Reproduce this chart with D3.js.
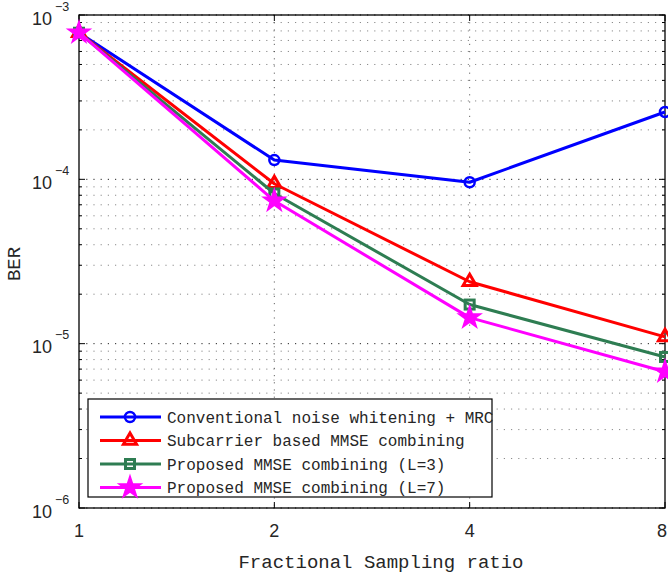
<!DOCTYPE html>
<html><head><meta charset="utf-8">
<script src="https://cdn.jsdelivr.net/npm/d3@7"></script>
<style>body{margin:0;background:#fff}svg{display:block}</style>
</head><body>
<svg id="c" width="668" height="578"></svg>
<script>
const ratios = [1, 2, 4, 8];
const xTickLabels = ["1", "2", "4", "8"];
const yDecades = [-6, -5, -4, -3];
const seriesNames = [
  "Conventional noise whitening + MRC",
  "Subcarrier based MMSE combining",
  "Proposed MMSE combining (L=3)",
  "Proposed MMSE combining (L=7)"
];
const berConventional = [7.8e-4, 1.31e-4, 9.6e-5, 2.57e-4];
const berSubcarrier   = [7.8e-4, 9.4e-5, 2.38e-5, 1.10e-5];
const berProposedL3   = [7.8e-4, 8.2e-5, 1.73e-5, 8.3e-6];
const berProposedL7   = [7.8e-4, 7.4e-5, 1.44e-5, 6.75e-6];

const svg = d3.select("#c");
const L = 79, R = 665, T = 15, B = 508;
const x = d3.scaleLog().base(2).domain([1, 8]).range([L, R]);
const y = d3.scaleLog().domain([1e-6, 1e-3]).range([B, T]);

// grid
const gridVals = [];
for (let k = -6; k < -3; k++) for (let m = 1; m <= 9; m++) gridVals.push(m * Math.pow(10, k));
gridVals.push(1e-3);
const g = svg.append("g");
gridVals.forEach(v => {
  const major = Math.abs(Math.log10(v) - Math.round(Math.log10(v))) < 1e-9;
  g.append("line").attr("x1", L).attr("x2", R).attr("y1", y(v)).attr("y2", y(v))
    .attr("stroke", "#000").attr("stroke-width", 1).attr("stroke-dasharray", "1.2,6")
    .attr("opacity", major ? 0.85 : 0.45);
});
ratios.slice(1, -1).forEach(v => {
  g.append("line").attr("x1", x(v)).attr("x2", x(v)).attr("y1", T).attr("y2", B)
    .attr("stroke", "#000").attr("stroke-width", 1).attr("stroke-dasharray", "1.2,6")
    .attr("opacity", 0.6);
});

// ticks
gridVals.forEach(v => {
  const major = Math.abs(Math.log10(v) - Math.round(Math.log10(v))) < 1e-9;
  const len = major ? 6 : 3;
  [[L, L + len], [R, R - len]].forEach(([a, b]) =>
    svg.append("line").attr("x1", a).attr("x2", b).attr("y1", y(v)).attr("y2", y(v))
      .attr("stroke", "#000").attr("stroke-width", 1));
});
ratios.forEach(v => {
  [[B, B - 6], [T, T + 6]].forEach(([a, b]) =>
    svg.append("line").attr("x1", x(v)).attr("x2", x(v)).attr("y1", a).attr("y2", b)
      .attr("stroke", "#000").attr("stroke-width", 1));
});

// axis box
svg.append("rect").attr("x", L).attr("y", T).attr("width", R - L).attr("height", B - T)
  .attr("fill", "none").attr("stroke", "#000").attr("stroke-width", 1.3);

// tick labels
const sans = "'Liberation Sans', Arial, sans-serif";
const mono = "'Liberation Mono', 'Courier New', monospace";
yDecades.forEach(k => {
  const yy = y(Math.pow(10, k));
  svg.append("text").attr("x", 52).attr("y", yy + 9.5).attr("text-anchor", "end")
    .attr("font-family", sans).attr("font-size", 18).attr("fill", "#262626").text("10");
  svg.append("text").attr("x", 55).attr("y", yy - 4.5)
    .attr("font-family", sans).attr("font-size", 12.5).attr("fill", "#262626").text("\u2212" + (-k));
});
ratios.forEach((v, i) => {
  const last = i === ratios.length - 1;
  svg.append("text").attr("x", last ? 667 : x(v)).attr("y", 537)
    .attr("text-anchor", last ? "end" : "middle")
    .attr("font-family", sans).attr("font-size", 18).attr("fill", "#262626").text(xTickLabels[i]);
});

// axis titles
svg.append("text").attr("x", 381).attr("y", 568).attr("text-anchor", "middle")
  .attr("font-family", mono).attr("font-size", 19).attr("fill", "#262626").text("Fractional Sampling ratio");
svg.append("text").attr("transform", "translate(20,264) rotate(-90)").attr("text-anchor", "middle")
  .attr("font-family", mono).attr("font-size", 19).attr("fill", "#262626").text("BER");

// series
const series = [
  {vals: berConventional, color: "#0000ff", marker: "circle"},
  {vals: berSubcarrier, color: "#ff0000", marker: "triangle"},
  {vals: berProposedL3, color: "#2e7d52", marker: "square"},
  {vals: berProposedL7, color: "#ff00ff", marker: "star"}
];
const line = d3.line().x(d => x(d[0])).y(d => y(d[1]));

function drawMarker(sel, type, cx, cy, color) {
  if (type === "circle") {
    sel.append("circle").attr("cx", cx).attr("cy", cy).attr("r", 5)
      .attr("fill", "none").attr("stroke", color).attr("stroke-width", 2.5);
  } else if (type === "triangle") {
    sel.append("path").attr("d", d3.symbol(d3.symbolTriangle, 75)())
      .attr("transform", `translate(${cx},${cy})`)
      .attr("fill", "none").attr("stroke", color).attr("stroke-width", 3);
  } else if (type === "square") {
    sel.append("rect").attr("x", cx - 4.5).attr("y", cy - 4.5).attr("width", 9).attr("height", 9)
      .attr("fill", "none").attr("stroke", color).attr("stroke-width", 3);
  } else {
    sel.append("path").attr("d", d3.symbol(d3.symbolStar, 150)())
      .attr("transform", `translate(${cx},${cy})`)
      .attr("fill", color).attr("stroke", color).attr("stroke-width", 1.5);
  }
}

series.forEach(s => {
  const pts = ratios.map((r, i) => [r, s.vals[i]]);
  svg.append("path").attr("d", line(pts)).attr("fill", "none")
    .attr("stroke", s.color).attr("stroke-width", 3).attr("stroke-linejoin", "round");
  pts.forEach(p => drawMarker(svg, s.marker, x(p[0]), y(p[1]), s.color));
});

// legend
const lg = svg.append("g");
lg.append("rect").attr("x", 88).attr("y", 399).attr("width", 404).attr("height", 98)
  .attr("fill", "#fff").attr("stroke", "#000").attr("stroke-width", 1.2);
series.forEach((s, i) => {
  const cy = 417 + i * 23.5;
  lg.append("line").attr("x1", 100).attr("x2", 161).attr("y1", cy).attr("y2", cy)
    .attr("stroke", s.color).attr("stroke-width", 3);
  drawMarker(lg, s.marker, 130, cy, s.color);
  lg.append("text").attr("x", 167).attr("y", cy + 5.5)
    .attr("font-family", mono).attr("font-size", 16).attr("fill", "#262626").text(seriesNames[i]);
});
</script>
</body></html>
